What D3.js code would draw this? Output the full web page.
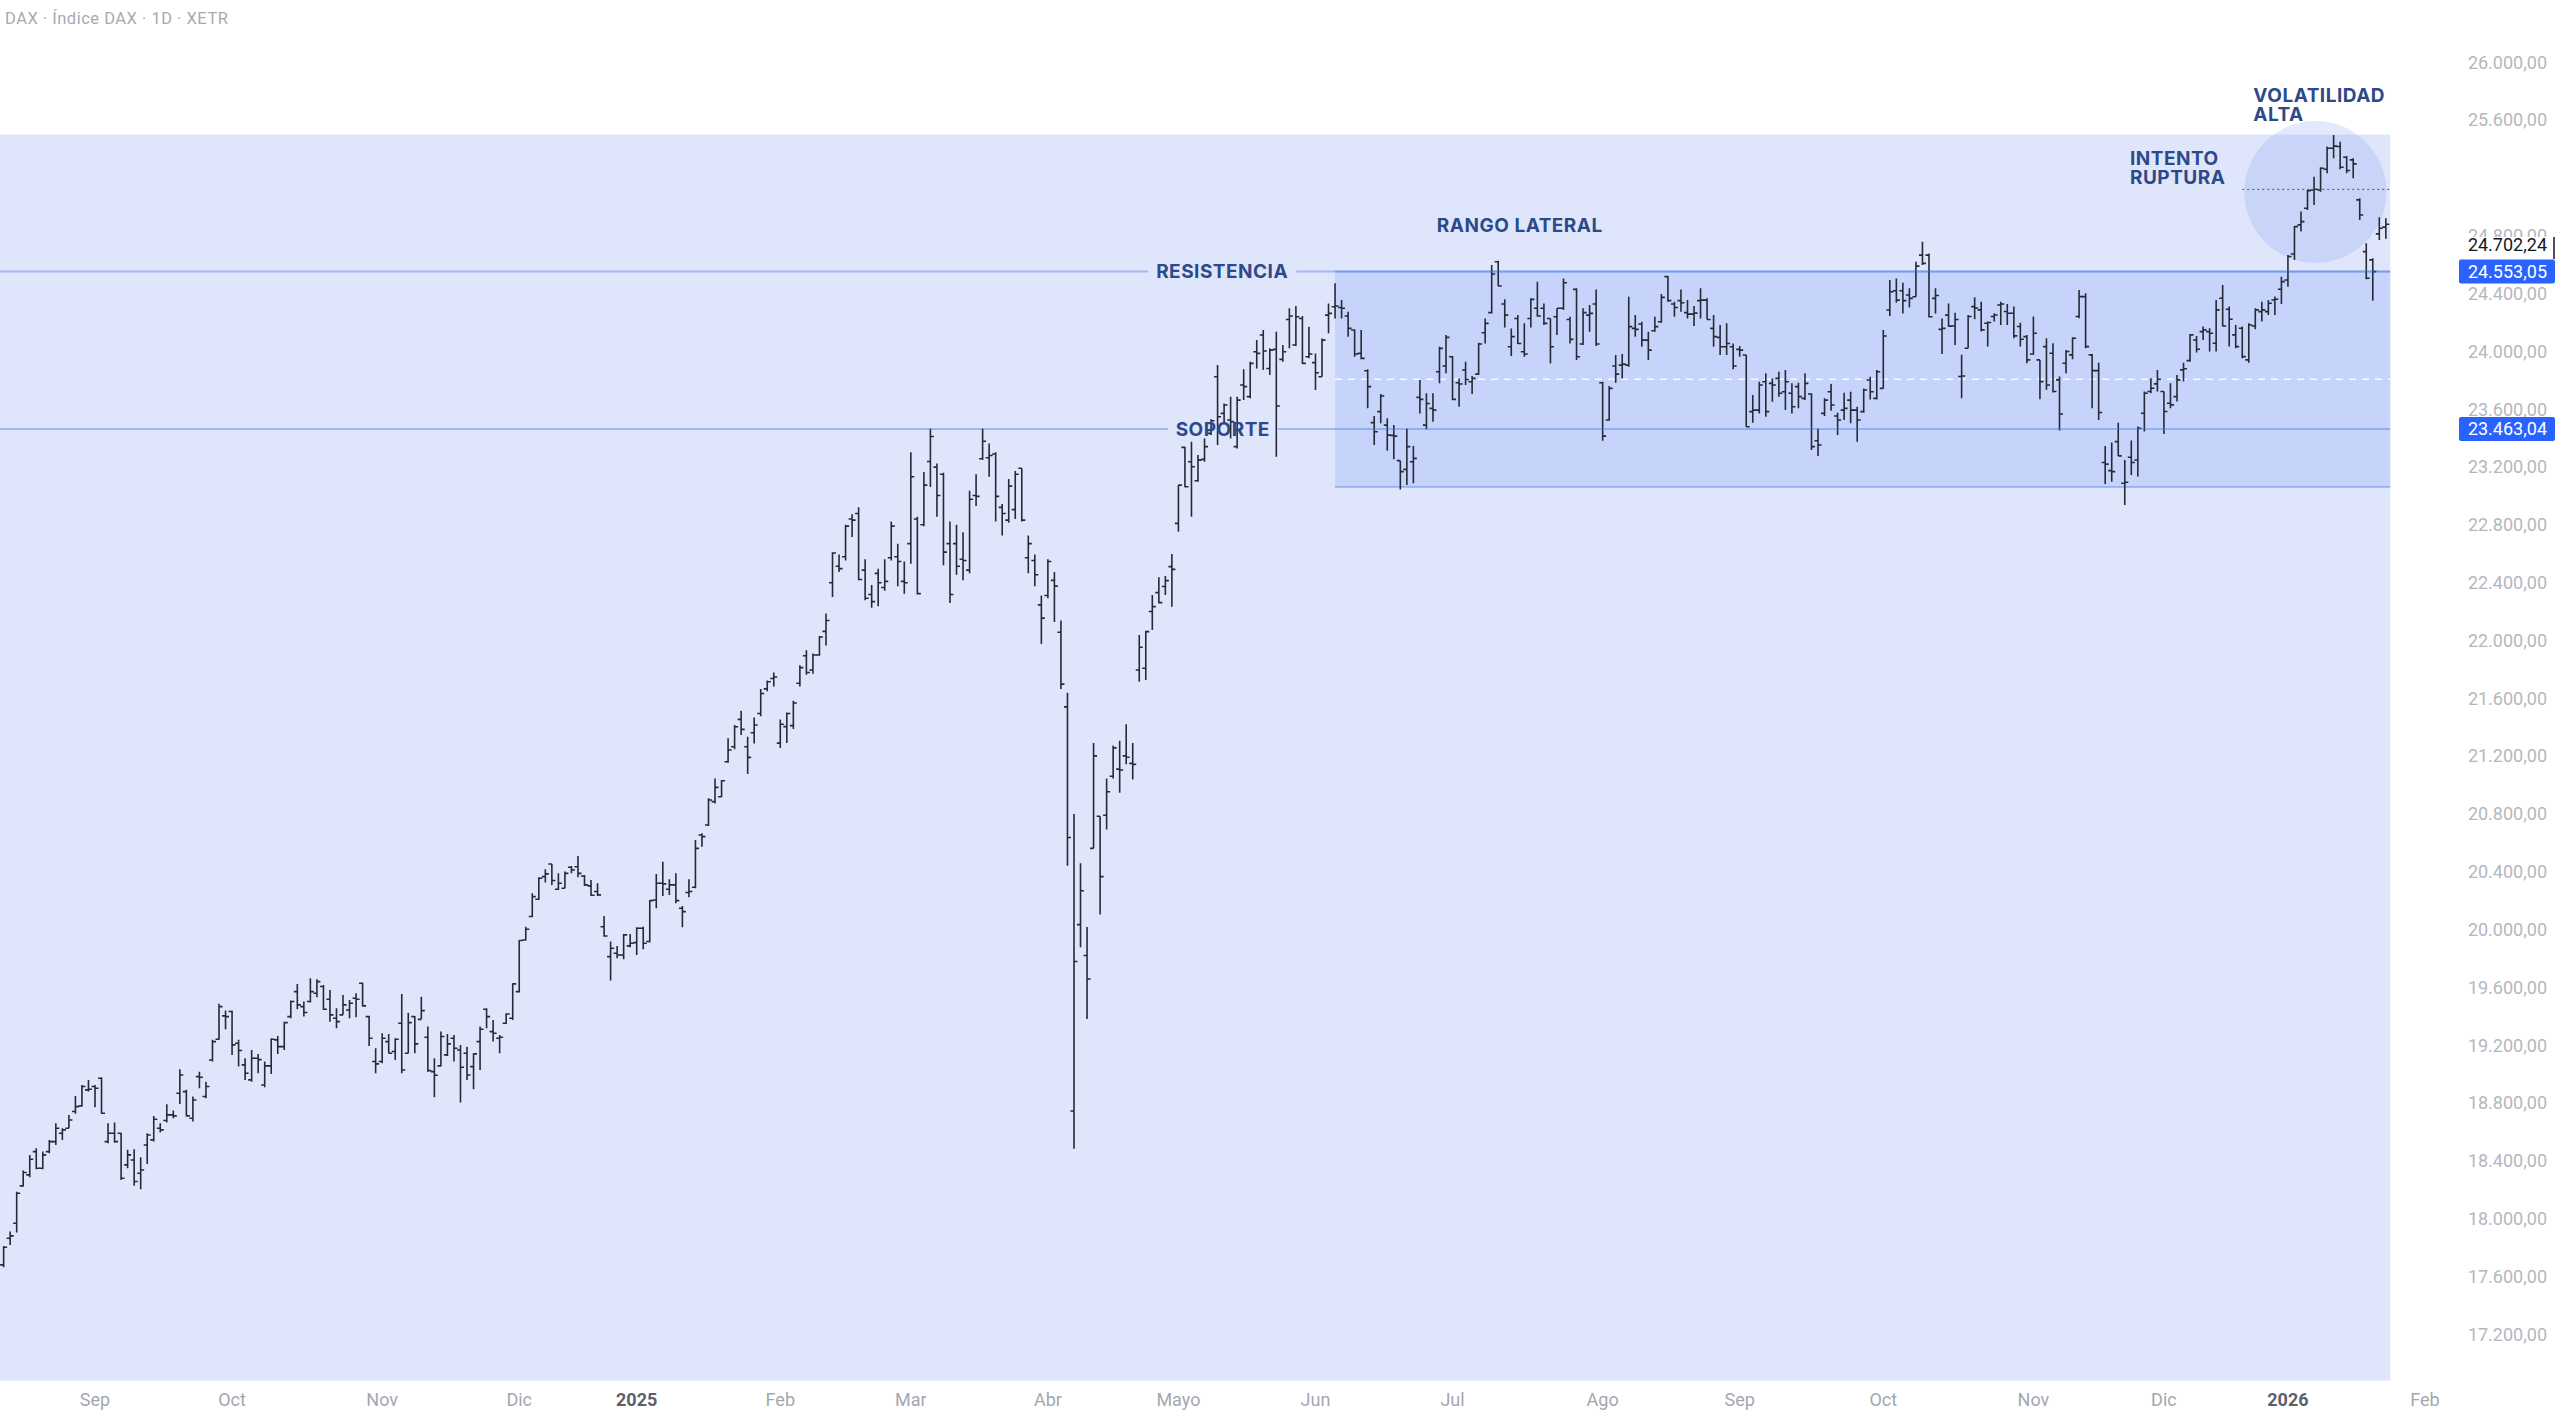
<!DOCTYPE html>
<html>
<head>
<meta charset="utf-8">
<script src="https://cdn.jsdelivr.net/npm/d3@7"></script>
<style>
  html, body { margin: 0; padding: 0; background: #fff; }
  svg { display: block; }
</style>
</head>
<body>
<div id="chart"></div>
<script>
const W = 2560, H = 1415;

// Xetra calendar
const firstDay = "2024-08-13";
const lastAxisDay = "2026-02-02";
const holidays = ["2024-12-24", "2024-12-25", "2024-12-26", "2024-12-31", "2025-01-01",
  "2025-04-18", "2025-04-21", "2025-05-01", "2025-12-24", "2025-12-25", "2025-12-26",
  "2025-12-31", "2026-01-01"];

const monthLabels = ["Sep", "Oct", "Nov", "Dic", "2025", "Feb", "Mar", "Abr", "Mayo", "Jun",
  "Jul", "Ago", "Sep", "Oct", "Nov", "Dic", "2026", "Feb"];
const yearLabels = ["2025", "2026"];

const priceTicks = [17200, 17600, 18000, 18400, 18800, 19200, 19600, 20000, 20400, 20800,
  21200, 21600, 22000, 22400, 22800, 23200, 23600, 24000, 24400, 24800, 25600, 26000];

// daily bars [open, high, low, close]
const ohlc = [
  // ago 2024
  [17680,17811,17664,17802],[17865,17911,17818,17881],[17968,18187,17904,18176],[18227,18333,18222,18319],
  [18303,18441,18287,18411],[18464,18487,18342,18349],[18349,18464,18342,18441],[18464,18545,18453,18533],
  [18533,18660,18510,18625],[18591,18625,18545,18614],[18625,18718,18625,18683],[18741,18849,18725,18775],
  [18780,18925,18775,18914],[18891,18960,18879,18895],
  // sep 2024
  [18914,18925,18771,18902],[18971,18978,18725,18729],[18533,18660,18522,18591],[18591,18665,18526,18533],
  [18591,18595,18268,18280],[18372,18476,18349,18441],[18406,18480,18227,18257],[18314,18425,18204,18337],
  [18510,18591,18379,18579],[18545,18711,18533,18688],[18625,18660,18596,18614],[18679,18791,18665,18718],
  [18718,18748,18695,18711],[18868,19034,18794,18994],[18879,18891,18706,18711],[18695,18845,18672,18821],
  [18983,19017,18902,18978],[18845,18948,18833,18914],[19098,19237,19087,19225],[19241,19486,19237,19467],
  [19403,19440,19310,19398],
  // oct 2024
  [19433,19440,19133,19202],[19214,19237,19052,19163],[19064,19110,18960,19006],[18960,19167,18948,19110],
  [19110,19140,19006,19100],[18925,19087,18909,19057],[19057,19248,19001,19241],[19237,19264,19140,19190],
  [19190,19363,19167,19356],[19398,19509,19386,19502],[19571,19624,19449,19479],[19467,19502,19398,19426],
  [19502,19663,19495,19571],[19559,19656,19532,19640],[19606,19617,19444,19449],[19518,19582,19363,19410],
  [19386,19456,19317,19363],[19410,19548,19410,19479],[19444,19513,19386,19490],[19525,19559,19393,19518],
  [19629,19633,19467,19472],[19398,19403,19195,19248],[19087,19179,19006,19071],
  // nov 2024
  [19087,19283,19075,19248],[19225,19278,19144,19144],[19156,19248,19098,19241],[19352,19555,19006,19029],
  [19144,19425,19144,19356],[19398,19402,19144,19209],[19379,19536,19379,19439],[19255,19329,19017,19024],
  [19017,19110,18840,18992],[19057,19294,19052,19260],[19133,19278,19126,19209],[19248,19271,19087,19179],
  [19167,19202,18803,19047],[19144,19190,18960,18994],[19052,19144,18895,19140],[19225,19329,19029,19310],
  [19449,19455,19317,19398],[19294,19375,19225,19283],[19248,19271,19144,19255],[19352,19421,19347,19416],
  [19386,19628,19375,19624],
  // dic 2024
  [19571,19928,19564,19924],[19928,20020,19924,20002],[20090,20251,20085,20228],[20210,20362,20205,20355],
  [20366,20417,20325,20385],[20454,20454,20309,20339],[20279,20389,20274,20320],[20286,20401,20286,20389],
  [20431,20440,20389,20412],[20435,20509,20362,20389],[20371,20378,20302,20309],[20302,20343,20233,20237],
  [20263,20320,20233,20240],[20020,20094,19951,19956],[19813,19917,19647,19871],[19836,19887,19801,19824],
  [19824,19970,19795,19963],[19887,19970,19877,19905],
  // ene 2025
  [19910,20016,19824,20009],[20009,20020,19864,19905],[19917,20205,19910,20200],[20205,20385,20147,20320],
  [20320,20470,20233,20316],[20279,20348,20240,20309],[20309,20389,20182,20200],[20147,20163,20016,20124],
  [20256,20348,20223,20263],[20293,20620,20286,20562],[20654,20666,20573,20643],[20723,20908,20716,20896],
  [20885,21046,20873,20984],[20919,21035,20915,21030],[21161,21323,21154,21242],[21265,21415,21247,21403],
  [21454,21514,21346,21385],[21265,21334,21076,21191],[21362,21468,21288,21415],[21495,21665,21476,21633],
  [21665,21724,21649,21714],[21737,21779,21681,21747],
  // feb 2025
  [21290,21453,21257,21420],[21404,21502,21290,21495],[21411,21583,21388,21567],[21704,21828,21681,21812],
  [21894,21933,21763,21779],[21796,21910,21770,21900],[21900,22031,21894,22024],[22063,22187,21965,22138],
  [22399,22611,22301,22605],[22514,22595,22474,22497],[22579,22801,22553,22791],[22840,22873,22716,22833],
  [22879,22921,22416,22422],[22487,22562,22279,22292],[22318,22383,22226,22269],[22464,22497,22236,22399],
  [22367,22562,22344,22409],[22572,22823,22553,22791],[22579,22670,22376,22546],[22409,22546,22324,22399],
  // mar 2025
  [22670,23303,22530,23133],[22840,22856,22318,22324],[22801,23166,22791,23075],[23238,23466,23062,23411],
  [23199,23225,22856,23003],[23150,23160,22520,22611],[22670,22823,22259,22318],[22670,22801,22455,22514],
  [22562,22748,22416,22553],[22487,23036,22465,22977],[23003,23150,22931,22997],[23257,23466,23248,23378],
  [23264,23362,23133,23280],[23290,23303,22823,22997],[22921,22944,22726,22879],[22833,23117,22814,23068],
  [22905,23173,22840,23150],[23192,23192,22823,22833],[22572,22726,22465,22670],[22553,22595,22376,22455],
  [22246,22311,21975,22155],
  // abr 2025
  [22311,22562,22292,22546],[22416,22474,22128,22376],[22057,22138,21665,21698],[21541,21639,20441,20637],
  [18745,20800,18484,19779],[20034,20458,19877,20269],[19821,20017,19381,19658],[20562,21290,20562,21202],
  [20784,20784,20105,20366],[20791,21045,20693,20954],[21061,21273,21045,21257],[21110,21306,20947,21104],
  [21202,21421,21143,21192],[21150,21290,21039,21143],[21796,22038,21715,21953],[21808,22068,21727,22061],
  [22200,22315,22073,22234],[22331,22437,22257,22262],[22373,22446,22315,22414],[22511,22598,22234,22492],
  // may 2025
  [22810,23075,22753,23075],[23336,23341,23060,23064],[23237,23375,22856,23202],[23105,23283,23098,23248],
  [23253,23398,23237,23341],[23433,23530,23421,23520],[23825,23906,23352,23548],[23571,23640,23502,23629],
  [23525,23687,23398,23514],[23341,23687,23329,23663],[23767,23876,23663,23756],[23687,23929,23675,23917],
  [23998,24078,23882,23986],[24113,24148,23871,24003],[23882,24021,23836,24009],[24014,24136,23271,23622],
  [23945,24044,23929,23998],[24221,24298,24021,24245],[24044,24314,24037,24240],[24228,24245,23912,23917],
  [23963,24171,23952,23982],
  // jun 2025
  [23922,23986,23733,23852],[23825,24090,23825,24078],[24251,24332,24125,24263],[24309,24471,24228,24314],
  [24304,24355,24228,24298],[24245,24274,24102,24159],[24148,24152,23963,23982],[23986,24148,23945,23952],
  [23866,23876,23606,23756],[23507,23553,23352,23444],[23583,23705,23502,23691],[23490,23537,23313,23421],
  [23419,23490,23253,23414],[23244,23244,23045,23168],[23184,23467,23075,23341],[23237,23345,23087,23260],
  [23682,23802,23571,23668],[23490,23710,23461,23640],[23606,23710,23514,23594],[23859,24032,23779,24021],
  [23899,24113,23848,24097],
  // jul 2025
  [23963,23968,23663,23668],[23783,23813,23617,23774],[23871,23929,23767,23806],[23790,23829,23705,23813],
  [23843,24060,23836,24051],[24129,24228,24055,24194],[24268,24597,24263,24535],[24620,24627,24452,24452],
  [24328,24360,24166,24251],[24032,24159,23968,24102],[24228,24251,24051,24055],[23998,24194,23963,23982],
  [24228,24367,24166,24360],[24298,24482,24240,24245],[24298,24332,24182,24194],[24228,24228,23917,24032],
  [24240,24298,24113,24298],[24298,24505,24286,24475],[24221,24240,24055,24083],[24429,24436,23940,23963],
  [24051,24298,24044,24268],[24251,24321,24136,24263],[24328,24429,24037,24051],
  // ago 2025
  [23783,23790,23382,23414],[23525,23760,23521,23744],[23899,23975,23783,23843],[23905,23982,23813,23912],
  [23905,24378,23894,24171],[24159,24251,24102,24152],[24189,24205,24032,24078],[24078,24136,23940,24009],
  [24143,24240,24136,24171],[24205,24397,24198,24374],[24517,24521,24344,24351],[24328,24344,24240,24304],
  [24351,24429,24274,24337],[24268,24355,24228,24258],[24258,24314,24175,24265],[24351,24436,24228,24355],
  [24355,24367,24221,24221],[24159,24251,24032,24102],[24097,24182,23975,24032],[24032,24194,23975,24055],
  [24032,24055,23876,23899],
  // sep 2025
  [24014,24037,23963,24009],[23975,23975,23479,23479],[23583,23698,23507,23594],[23594,23790,23571,23767],
  [23790,23848,23548,23583],[23779,23813,23652,23767],[23813,23859,23687,23710],[23721,23871,23594,23790],
  [23710,23779,23571,23617],[23756,23783,23606,23687],[23675,23848,23664,23779],[23705,23710,23318,23341],
  [23382,23467,23276,23352],[23571,23675,23553,23663],[23721,23774,23590,23629],[23553,23576,23421,23525],
  [23594,23714,23525,23606],[23663,23721,23502,23594],[23594,23617,23375,23525],[23583,23744,23576,23733],
  [23802,23825,23668,23721],[23675,23871,23668,23859],
  // oct 2025
  [23744,24148,23744,24106],[24286,24494,24245,24413],[24420,24505,24337,24355],[24420,24475,24263,24351],
  [24390,24436,24304,24367],[24378,24620,24378,24590],[24666,24759,24597,24609],[24666,24678,24235,24240],
  [24367,24436,24263,24387],[24152,24228,23982,24159],[24251,24332,24171,24175],[24176,24268,24045,24221],
  [23826,23976,23676,23830],[24022,24252,24022,24241],[24310,24374,24222,24300],[24287,24344,24137,24149],
  [24195,24206,24033,24200],[24241,24264,24206,24252],[24321,24344,24183,24328],[24276,24328,24183,24264],
  [24264,24310,24091,24107],[24172,24199,24033,24084],[24102,24114,23918,23941],
  // nov 2025
  [23982,24241,23976,24125],[23941,23941,23669,23791],[24033,24091,23734,23768],[23987,24056,23715,23722],
  [23803,23826,23452,23567],[23918,24010,23849,23999],[23976,24098,23946,24091],[24241,24425,24229,24379],
  [24379,24402,24022,24033],[23976,23982,23607,23867],[23867,23922,23526,23577],[23231,23346,23083,23220],
  [23175,23369,23099,23168],[23376,23507,23277,23277],[23088,23249,22938,23095],[23268,23383,23145,23231],
  [23249,23480,23134,23468],[23572,23722,23445,23710],[23722,23814,23710,23745],[23775,23872,23722,23807],
  // dic 2025
  [23722,23722,23429,23584],[23641,23779,23607,23630],[23687,23837,23653,23803],[23872,23922,23791,23880],
  [23936,24121,23929,24114],[24079,24107,23992,24015],[24137,24172,24079,24149],[24137,24160,23999,24126],
  [24056,24356,23999,24287],[24368,24460,24172,24176],[24292,24310,24033,24222],[24114,24183,24022,24033],
  [24160,24172,23953,23964],[23941,24195,23922,24183],[24176,24298,24153,24287],[24275,24344,24206,24287],
  [24275,24356,24252,24333],[24356,24379,24252,24361],[24430,24517,24328,24483],
  // ene 2026
  [24494,24667,24448,24656],[24674,24868,24633,24863],[24875,24967,24829,24898],[24990,25117,24979,25112],
  [25117,25209,25013,25122],[25117,25274,25105,25267],[25260,25417,25232,25405],[25405,25497,25336,25420],
  [25417,25451,25260,25274],[25343,25352,25232,25251],[25325,25336,25198,25297],[25048,25059,24909,24944],
  [24690,24748,24499,24506],[24633,24644,24351,24552],[24813,24928,24771,24852],[24860,24921,24780,24880]
];

// drawings (positions in trading-day index / price)
const resistance = 24553.05;
const support = 23463.04;
const lastPrice = 24702.24;
const rangeBox = { from: 204, to: 365.67, top: 24553.05, bottom: 23062 };
const backZone = { to: 365.67, top: 25500, bottom: 16880 };
const spikeCircle = { j: 354.2, price: 25103, r: 71 };
const spikeLine = { from: 343, to: 365.67, price: 25121 };
const lineLabels = [
  { text: "RESISTENCIA", price: resistance, j: 186.7 },
  { text: "SOPORTE", price: support, j: 186.8 }
];
const notes = [
  { lines: ["RANGO LATERAL"], j: 219.6, price: 24828 },
  { lines: ["INTENTO", "RUPTURA"], j: 325.8, price: 25290 },
  { lines: ["VOLATILIDAD", "ALTA"], j: 344.7, price: 25727 }
];

// ---- calendar ----
const hol = new Set(holidays);
const days = [];
const end = new Date(lastAxisDay + "T00:00:00Z");
for (let d = new Date(firstDay + "T00:00:00Z"); d <= end; d.setUTCDate(d.getUTCDate() + 1)) {
  const wd = d.getUTCDay();
  if (wd === 0 || wd === 6 || hol.has(d.toISOString().slice(0, 10))) continue;
  days.push(new Date(d));
}
const monthStarts = [];
for (let j = 1; j < days.length; j++) {
  if (days[j].getUTCMonth() !== days[j - 1].getUTCMonth()) monthStarts.push(j);
}

const x = d3.scaleLinear()
  .domain([monthStarts[0], monthStarts[monthStarts.length - 1]])
  .range([95, 2425]);
const y = d3.scaleLinear().domain([17200, 26000]).range([1334.3, 62.3]);

const fmt = d3.formatLocale({ decimal: ",", thousands: ".", grouping: [3], currency: ["", ""] }).format(",.2f");

const svg = d3.select("#chart").append("svg")
  .attr("width", W)
  .attr("height", H)
  .style("font-family", "Roboto, 'Noto Sans', sans-serif");

svg.append("rect").attr("width", W).attr("height", H).attr("fill", "#ffffff");

// title
svg.append("text")
  .attr("x", 5).attr("y", 24)
  .attr("font-size", "16.5px")
  .attr("letter-spacing", "0.5px")
  .attr("fill", "#a7aab2")
  .text("DAX · Índice DAX · 1D · XETR");

// background zone
svg.append("rect")
  .attr("x", 0)
  .attr("y", y(backZone.top))
  .attr("width", x(backZone.to))
  .attr("height", y(backZone.bottom) - y(backZone.top))
  .attr("fill", "#dfe6fc");

// lateral range box
const rx0 = x(rangeBox.from), rx1 = x(rangeBox.to);
svg.append("rect")
  .attr("x", rx0)
  .attr("y", y(rangeBox.top))
  .attr("width", rx1 - rx0)
  .attr("height", y(rangeBox.bottom) - y(rangeBox.top))
  .attr("fill", "#c6d3fa");

svg.append("line")
  .attr("x1", rx0).attr("x2", rx1)
  .attr("y1", y((rangeBox.top + rangeBox.bottom) / 2))
  .attr("y2", y((rangeBox.top + rangeBox.bottom) / 2))
  .attr("stroke", "#ffffff")
  .attr("stroke-width", 1.5)
  .attr("stroke-dasharray", "7,6")
  .attr("opacity", 0.9);

[rangeBox.top, rangeBox.bottom].forEach(p => {
  svg.append("line")
    .attr("x1", rx0).attr("x2", rx1)
    .attr("y1", y(p)).attr("y2", y(p))
    .attr("stroke", "rgba(60,110,235,0.35)")
    .attr("stroke-width", 2);
});

// circle round the spike
svg.append("circle")
  .attr("cx", x(spikeCircle.j))
  .attr("cy", y(spikeCircle.price))
  .attr("r", spikeCircle.r)
  .attr("fill", "rgba(110,145,240,0.2)");

// horizontal levels with a gap for their label
const lvl = svg.append("g");
lineLabels.forEach(l => {
  const t = lvl.append("text")
    .attr("x", x(l.j))
    .attr("y", y(l.price))
    .attr("dy", "0.36em")
    .attr("text-anchor", "middle")
    .attr("font-family", "Inter, 'Open Sans', sans-serif")
    .attr("font-weight", 700)
    .attr("font-size", "19px")
    .attr("letter-spacing", "0.5px")
    .attr("fill", "#2c4a8a")
    .text(l.text);
  const bb = t.node().getBBox();
  const segs = [[0, bb.x - 8], [bb.x + bb.width + 8, x(backZone.to)]];
  segs.forEach(s => {
    lvl.insert("line", "text")
      .attr("x1", s[0]).attr("x2", s[1])
      .attr("y1", y(l.price)).attr("y2", y(l.price))
      .attr("stroke", "rgba(60,110,235,0.38)")
      .attr("stroke-width", 2);
  });
});

// OHLC bars
svg.append("g")
  .attr("fill", "none")
  .attr("stroke", "#262a35")
  .attr("stroke-width", 1.6)
  .selectAll("path")
  .data(ohlc)
  .join("path")
  .attr("d", (d, j) => {
    const cx = x(j);
    return `M${cx},${y(d[1])}V${y(d[2])}M${cx - 3.5},${y(d[0])}H${cx}M${cx},${y(d[3])}H${cx + 3.5}`;
  });

// dotted line through the spike
svg.append("line")
  .attr("x1", x(spikeLine.from)).attr("x2", x(spikeLine.to))
  .attr("y1", y(spikeLine.price)).attr("y2", y(spikeLine.price))
  .attr("stroke", "#50545e")
  .attr("stroke-width", 1)
  .attr("stroke-dasharray", "2,3");

// labels drawn on top of the level text
lvl.raise();

// notes
notes.forEach(n => {
  const t = svg.append("text")
    .attr("x", x(n.j))
    .attr("y", y(n.price))
    .attr("font-family", "Inter, 'Open Sans', sans-serif")
    .attr("font-weight", 700)
    .attr("font-size", "19px")
    .attr("letter-spacing", "0.5px")
    .attr("fill", "#2c4a8a");
  n.lines.forEach((s, k) => {
    t.append("tspan").attr("x", x(n.j)).attr("dy", k === 0 ? 0 : 19.3).text(s);
  });
});

// price axis
const axisG = svg.append("g").attr("font-size", "18px").attr("text-anchor", "end");
axisG.selectAll("text.tick")
  .data(priceTicks)
  .join("text")
  .attr("class", "tick")
  .attr("x", 2547)
  .attr("y", d => y(d))
  .attr("dy", "0.35em")
  .attr("fill", "#b4b7bf")
  .text(d => fmt(d));

// last price label (white)
const ly = y(lastPrice);
axisG.append("rect")
  .attr("x", 2460).attr("y", ly - 13)
  .attr("width", 94).attr("height", 22)
  .attr("fill", "#ffffff");
axisG.append("line")
  .attr("x1", 2554).attr("x2", 2554)
  .attr("y1", ly - 13).attr("y2", ly + 9)
  .attr("stroke", "#131722").attr("stroke-width", 1.5);
axisG.append("text")
  .attr("x", 2547).attr("y", ly - 5)
  .attr("dy", "0.35em")
  .attr("fill", "#131722")
  .text(fmt(lastPrice));

// blue level tags
[resistance, support].forEach(p => {
  axisG.append("rect")
    .attr("x", 2459).attr("y", y(p) - 12)
    .attr("width", 96).attr("height", 24)
    .attr("rx", 2)
    .attr("fill", "#2962ff");
  axisG.append("text")
    .attr("x", 2547).attr("y", y(p))
    .attr("dy", "0.35em")
    .attr("fill", "#ffffff")
    .text(fmt(p));
});

// time axis
svg.append("g")
  .attr("font-size", "18px")
  .attr("text-anchor", "middle")
  .selectAll("text")
  .data(monthStarts)
  .join("text")
  .attr("x", d => x(d))
  .attr("y", 1406)
  .attr("fill", (d, k) => yearLabels.includes(monthLabels[k]) ? "#5d606b" : "#a4a7b0")
  .attr("font-weight", (d, k) => yearLabels.includes(monthLabels[k]) ? 700 : 400)
  .text((d, k) => monthLabels[k]);
</script>
</body>
</html>
